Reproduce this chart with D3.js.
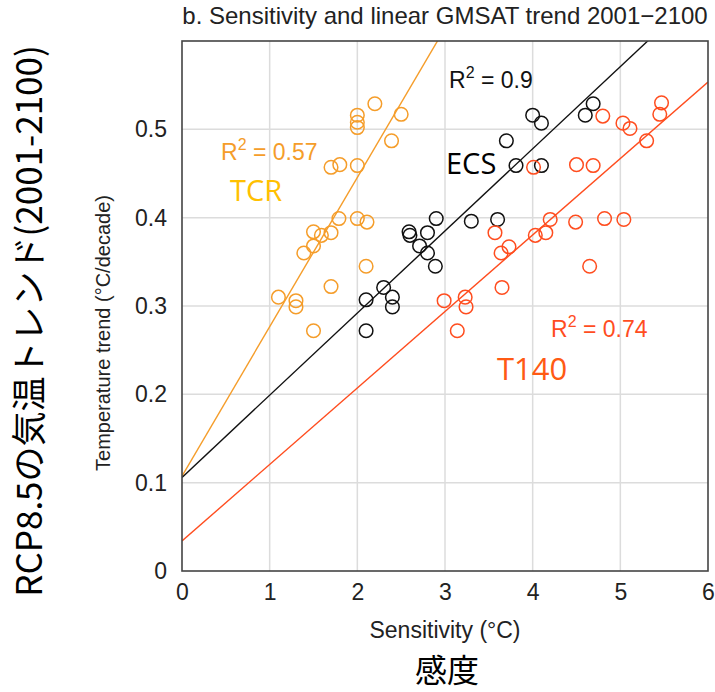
<!DOCTYPE html>
<html>
<head>
<meta charset="utf-8">
<script src="https://cdn.jsdelivr.net/npm/d3@7"></script>
<style>
  body { margin: 0; background: #fff; }
  text { font-family: "Liberation Sans", Arial, sans-serif; }
</style>
</head>
<body>
<div id="chart"></div>
<script>
"use strict";

// values
var tcrX = [2.20, 2.00, 2.00, 2.00, 2.50, 2.39, 1.70, 1.80, 2.00, 1.79, 2.00, 2.11,
            1.50, 1.59, 1.70, 1.50, 1.39, 2.10, 1.70, 1.10, 1.30, 1.30, 1.50];
var tcrY = [0.529, 0.516, 0.508, 0.502, 0.517, 0.487, 0.457, 0.460, 0.459, 0.399, 0.399, 0.395,
            0.384, 0.380, 0.383, 0.368, 0.360, 0.345, 0.322, 0.310, 0.306, 0.299, 0.272];

var ecsX = [2.90, 3.30, 3.60, 2.59, 2.60, 2.80, 2.71, 2.80, 2.89, 2.30, 2.40, 2.40, 2.10, 2.10,
            4.69, 4.60, 4.00, 4.10, 3.70, 3.81, 4.10];
var ecsY = [0.399, 0.396, 0.398, 0.384, 0.380, 0.383, 0.368, 0.360, 0.345, 0.321, 0.310, 0.299, 0.307, 0.272,
            0.529, 0.516, 0.516, 0.507, 0.487, 0.459, 0.459];

var t140X = [5.47, 5.45, 4.80, 5.03, 5.11, 5.30, 4.50, 4.69, 4.01, 4.49, 4.82, 5.04,
             4.20, 4.15, 4.03, 4.65, 3.57, 3.73, 3.64, 3.65, 3.23, 3.24, 2.99, 3.14];
var t140Y = [0.530, 0.517, 0.515, 0.507, 0.501, 0.487, 0.460, 0.459, 0.457, 0.395, 0.399, 0.398,
             0.398, 0.383, 0.380, 0.345, 0.383, 0.367, 0.360, 0.321, 0.310, 0.299, 0.306, 0.272];

// regression lines [intercept, slope]
var tcrFit = [0.1075, 0.169];
var ecsFit = [0.106, 0.093];
var t140Fit = [0.034, 0.0866];

var xTicks = [0, 1, 2, 3, 4, 5, 6];
var yTicks = [0, 0.1, 0.2, 0.3, 0.4, 0.5];

var orange = "#f59d2a", black = "#111", red = "#ff4d1f";

var margin = {top: 41, left: 182, right: 7, bottom: 121};
var width = 715 - margin.left - margin.right;
var height = 692 - margin.top - margin.bottom;

var svg = d3.select("#chart")
    .append("svg")
    .attr("width", 715)
    .attr("height", 692);

var g = svg.append("g")
    .attr("transform", "translate(" + margin.left + "," + margin.top + ")");

var x = d3.scaleLinear().domain([0, 6]).range([0, width]);
var y = d3.scaleLinear().domain([0, 0.6]).range([height, 0]);

// grid
g.append("g").selectAll("line")
    .data(xTicks.slice(1, -1))
    .enter().append("line")
    .attr("x1", d => x(d)).attr("x2", d => x(d))
    .attr("y1", 0).attr("y2", height)
    .attr("stroke", "#dcdcdc").attr("stroke-width", 1.5);
g.append("g").selectAll("line")
    .data(yTicks.slice(1))
    .enter().append("line")
    .attr("y1", d => y(d)).attr("y2", d => y(d))
    .attr("x1", 0).attr("x2", width)
    .attr("stroke", "#dcdcdc").attr("stroke-width", 1.5);

// axes (labels only)
var xAxis = g.append("g")
    .attr("transform", "translate(0," + height + ")")
    .call(d3.axisBottom(x).tickValues(xTicks).tickSize(0).tickPadding(13).tickFormat(d3.format("d")));
var yAxis = g.append("g")
    .call(d3.axisLeft(y).tickValues(yTicks).tickSize(0).tickPadding(15).tickFormat(d => d === 0 ? "0" : d3.format(".1f")(d)));
[xAxis, yAxis].forEach(function (a) {
    a.select(".domain").remove();
    a.selectAll("text")
        .style("font-family", "'Liberation Sans', Arial, sans-serif")
        .style("font-size", "23px")
        .attr("fill", "#222");
});

// clip for fit lines
svg.append("defs").append("clipPath").attr("id", "plotclip")
    .append("rect").attr("width", width).attr("height", height);

function drawFit(fit, color) {
    g.append("line")
        .attr("clip-path", "url(#plotclip)")
        .attr("x1", x(0)).attr("y1", y(fit[0]))
        .attr("x2", x(6)).attr("y2", y(fit[0] + fit[1] * 6))
        .attr("stroke", color).attr("stroke-width", 1.4);
}
drawFit(tcrFit, orange);
drawFit(ecsFit, black);
drawFit(t140Fit, red);

function drawPoints(xs, ys, color) {
    g.append("g").selectAll("circle")
        .data(xs.map((d, i) => [d, ys[i]]))
        .enter().append("circle")
        .attr("cx", d => x(d[0]))
        .attr("cy", d => y(d[1]))
        .attr("r", 6.8)
        .attr("fill", "none")
        .attr("stroke", color)
        .attr("stroke-width", 1.5);
}
drawPoints(tcrX, tcrY, orange);
drawPoints(ecsX, ecsY, black);
drawPoints(t140X, t140Y, red);

// frame
g.append("rect")
    .attr("width", width).attr("height", height)
    .attr("fill", "none").attr("stroke", "#444").attr("stroke-width", 1.6);

// R^2 labels
function r2Label(px, py, val, color) {
    var t = svg.append("text")
        .attr("x", px).attr("y", py)
        .attr("fill", color)
        .style("font-size", "23px");
    t.append("tspan").text("R");
    t.append("tspan").attr("dy", -10).style("font-size", "16px").text("2");
    t.append("tspan").attr("dy", 10).text(" = " + val);
}
r2Label(221, 160, "0.57", orange);
r2Label(449, 88, "0.9", black);
r2Label(551, 337, "0.74", red);

// series names
var nameStyle = "'Open Sans', 'Noto Sans', sans-serif";
svg.append("text").attr("x", 230).attr("y", 201).text("TCR")
    .style("font-family", nameStyle).style("font-size", "29px").attr("fill", "#ffc000");
svg.append("text").attr("x", 446).attr("y", 174).text("ECS")
    .style("font-family", nameStyle).style("font-size", "29px").attr("fill", "#000");
svg.append("text").attr("x", 497).attr("y", 380).text("T140")
    .style("font-family", nameStyle).style("font-size", "31px").attr("fill", "#ff5a14");

// titles
svg.append("text")
    .attr("x", margin.left + width / 2).attr("y", 24)
    .style("text-anchor", "middle").style("font-size", "24px").attr("fill", "#222")
    .text("b. Sensitivity and linear GMSAT trend 2001\u22122100");

svg.append("text")
    .attr("x", margin.left + width / 2).attr("y", 638)
    .style("text-anchor", "middle").style("font-size", "23px").attr("fill", "#222")
    .text("Sensitivity (\u00b0C)");

svg.append("text")
    .attr("transform", "translate(110,333) rotate(-90)")
    .style("text-anchor", "middle").style("font-size", "20px").attr("fill", "#222")
    .text("Temperature trend (\u00b0C/decade)");

svg.append("text")
    .attr("transform", "translate(42,321) rotate(-90)")
    .style("text-anchor", "middle")
    .style("font-family", "'Noto Sans CJK JP', sans-serif").style("font-size", "35px").attr("fill", "#000")
    .text("RCP8.5の気温トレンド(2001-2100)");

svg.append("text")
    .attr("x", 447).attr("y", 682)
    .style("text-anchor", "middle")
    .style("font-family", "'Noto Sans CJK JP', sans-serif").style("font-size", "32px").attr("fill", "#000")
    .text("感度");
</script>
</body>
</html>
